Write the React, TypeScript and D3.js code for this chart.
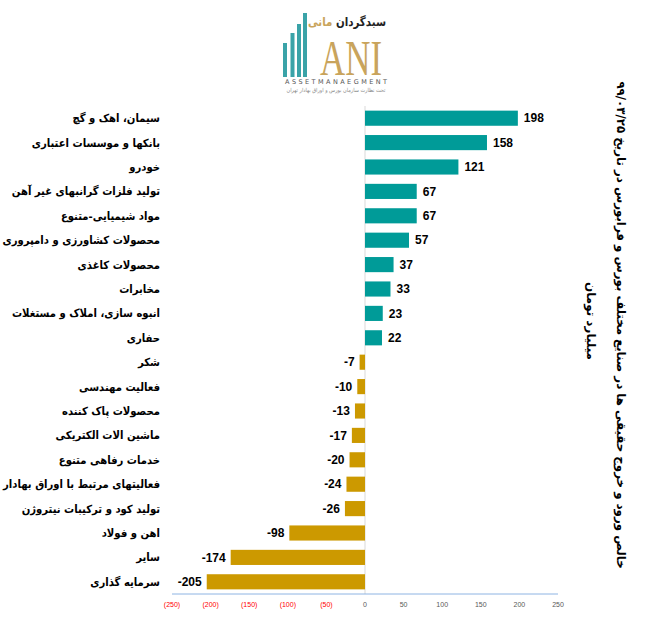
import { useEffect, useRef } from "react";
import * as d3 from "d3";

const categories = [
  "سیمان، اهک و گچ",
  "بانکها و موسسات اعتباری",
  "خودرو",
  "تولید فلزات گرانبهای غیر آهن",
  "مواد شیمیایی-متنوع",
  "محصولات کشاورزی و دامپروری",
  "محصولات کاغذی",
  "مخابرات",
  "انبوه سازی، املاک و مستغلات",
  "حفاری",
  "شکر",
  "فعالیت مهندسی",
  "محصولات پاک کننده",
  "ماشین الات الکتریکی",
  "خدمات رفاهی متنوع",
  "فعالیتهای مرتبط با اوراق بهادار",
  "تولید کود و ترکیبات نیتروژن",
  "اهن و فولاد",
  "سایر",
  "سرمایه گذاری",
];
const values = [198, 158, 121, 67, 67, 57, 37, 33, 23, 22, -7, -10, -13, -17, -20, -24, -26, -98, -174, -205];
const ticks = [-250, -200, -150, -100, -50, 0, 50, 100, 150, 200, 250];
const title = "خالص ورود و خروج حقیقی ها در صنایع مختلف بورس و فرابورس در تاریخ ۹۹/۰۳/۲۵";
const subtitle = "میلیارد تومان";

const W = 671;
const H = 624;
const POS = "#009b98";
const NEG = "#cc9900";
const FA = "DejaVu Sans Condensed, DejaVu Sans, sans-serif";

export default function App() {
  const ref = useRef<SVGSVGElement>(null);

  useEffect(() => {
    if (!ref.current) return;
    const svg = d3.select(ref.current);
    svg.selectAll("*").remove();

    const x = d3.scaleLinear().domain([-250, 250]).range([172, 558]);
    const y = d3.scaleBand().domain(categories).range([106, 594]).paddingInner(0.38).paddingOuter(0.19);

    // zero line
    svg.append("line")
      .attr("x1", x(0)).attr("x2", x(0))
      .attr("y1", 106).attr("y2", 594)
      .attr("stroke", "#d9d9d9").attr("stroke-width", 1);

    // axis
    const axis = svg.append("g").attr("transform", "translate(0,594)");
    axis.append("line")
      .attr("x1", x(-250)).attr("x2", x(250))
      .attr("stroke", "#8eb4e3").attr("stroke-width", 1);
    axis.selectAll("text.tick")
      .data(ticks)
      .enter()
      .append("text")
      .attr("class", "tick")
      .attr("x", (d) => x(d))
      .attr("y", 13)
      .attr("text-anchor", "middle")
      .attr("font-family", "Liberation Sans, sans-serif")
      .attr("font-size", "7px")
      .attr("fill", (d) => (d < 0 ? "#ff0000" : "#595959"))
      .text((d) => (d < 0 ? `(${-d})` : `${d}`));

    // bars
    svg.selectAll("rect.bar")
      .data(values)
      .enter()
      .append("rect")
      .attr("class", "bar")
      .attr("x", (d) => x(Math.min(0, d)))
      .attr("y", (_d, i) => y(categories[i]) || 0)
      .attr("width", (d) => Math.abs(x(d) - x(0)))
      .attr("height", y.bandwidth())
      .attr("fill", (d) => (d >= 0 ? POS : NEG));

    // value labels
    svg.selectAll("text.val")
      .data(values)
      .enter()
      .append("text")
      .attr("class", "val")
      .attr("x", (d) => (d >= 0 ? x(d) + 6 : x(d) - 5))
      .attr("y", (_d, i) => (y(categories[i]) || 0) + y.bandwidth() / 2)
      .attr("dy", "0.35em")
      .attr("text-anchor", (d) => (d >= 0 ? "start" : "end"))
      .attr("font-family", "Liberation Sans, sans-serif")
      .attr("font-weight", "bold")
      .attr("font-size", "12px")
      .attr("fill", "#000")
      .text((d) => `${d}`);

    // category labels
    svg.selectAll("text.cat")
      .data(categories)
      .enter()
      .append("text")
      .attr("class", "cat")
      .attr("x", 160)
      .attr("y", (d) => (y(d) || 0) + y.bandwidth() / 2)
      .attr("dy", "0.35em")
      .attr("text-anchor", "end")
      .attr("font-family", FA)
      .attr("font-weight", "bold")
      .attr("font-size", "11.2px")
      .attr("fill", "#000")
      .text((d) => d);

    // rotated titles
    svg.append("text")
      .attr("transform", "translate(621,325) rotate(90)")
      .attr("text-anchor", "middle")
      .attr("dy", "0.35em")
      .attr("direction", "rtl")
      .attr("font-family", "DejaVu Sans, sans-serif")
      .attr("font-weight", "bold")
      .attr("font-size", "11.8px")
      .attr("fill", "#000")
      .text(title);
    svg.append("text")
      .attr("transform", "translate(591,321) rotate(90)")
      .attr("text-anchor", "middle")
      .attr("dy", "0.35em")
      .attr("direction", "rtl")
      .attr("font-family", "DejaVu Sans, sans-serif")
      .attr("font-weight", "bold")
      .attr("font-size", "12px")
      .attr("fill", "#000")
      .text(subtitle);

    // logo
    const logo = svg.append("g");
    const logoBars = [
      { x: 283, top: 43 },
      { x: 290.5, top: 33 },
      { x: 297, top: 24 },
      { x: 303, top: 13 },
    ];
    logo.selectAll("rect")
      .data(logoBars)
      .enter()
      .append("rect")
      .attr("x", (d) => d.x)
      .attr("y", (d) => d.top)
      .attr("width", 4)
      .attr("height", (d) => 77 - d.top)
      .attr("fill", "#3aa3a8");
    logo.append("text")
      .attr("x", 351).attr("y", 75)
      .attr("text-anchor", "middle")
      .attr("font-family", "Liberation Serif, serif")
      .attr("font-size", "50px")
      .attr("textLength", 62)
      .attr("lengthAdjust", "spacingAndGlyphs")
      .attr("fill", "#c9a45c")
      .text("ANI");
    const head = logo.append("text")
      .attr("x", 386).attr("y", 26)
      .attr("text-anchor", "end")
      .attr("font-family", FA)
      .attr("font-weight", "bold")
      .attr("font-size", "12px")
      .attr("textLength", 78)
      .attr("lengthAdjust", "spacingAndGlyphs");
    head.append("tspan").attr("fill", "#222").text("سبدگردان");
    head.append("tspan").attr("fill", "#c9a45c").text(" مانی");
    logo.append("text")
      .attr("x", 336).attr("y", 83.5)
      .attr("text-anchor", "middle")
      .attr("font-family", "DejaVu Sans, sans-serif")
      .attr("font-size", "6.5px")
      .attr("textLength", 102)
      .attr("lengthAdjust", "spacing")
      .attr("fill", "#555")
      .text("ASSETMANAEGMENT");
    logo.append("text")
      .attr("x", 336).attr("y", 92)
      .attr("text-anchor", "middle")
      .attr("direction", "rtl")
      .attr("font-family", FA)
      .attr("font-size", "5.5px")
      .attr("fill", "#888")
      .text("تحت نظارت سازمان بورس و اوراق بهادار تهران");
  }, []);

  return (
    <div style={{ position: "absolute", left: 0, top: 0 }}>
      <svg ref={ref} width={W} height={H} style={{ display: "block", background: "#fff" }} />
    </div>
  );
}
